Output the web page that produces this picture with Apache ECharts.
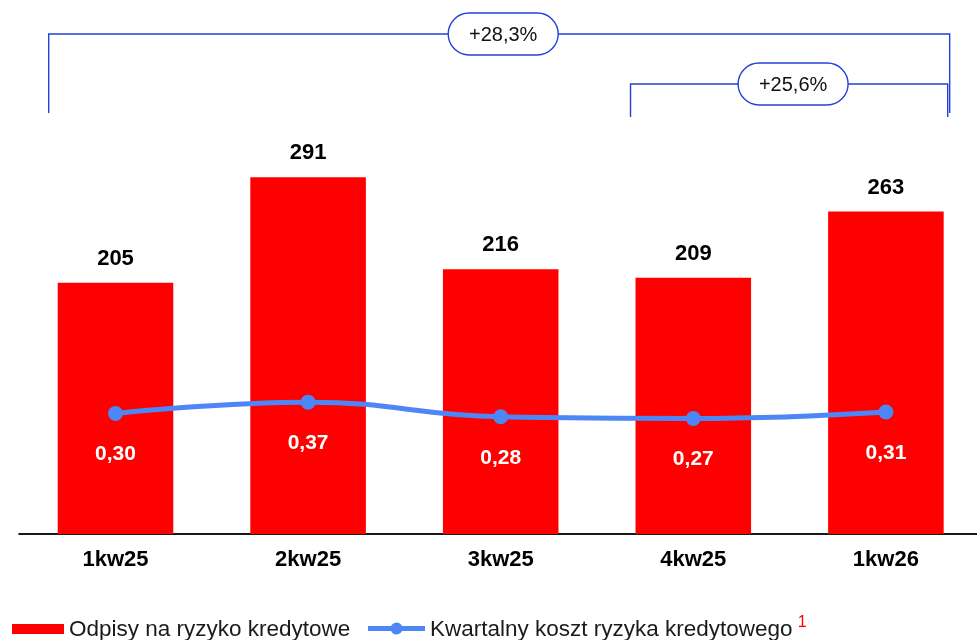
<!DOCTYPE html>
<html>
<head>
<meta charset="utf-8">
<script src="https://cdn.jsdelivr.net/npm/echarts@6/dist/echarts.min.js"></script>
<style>
  html, body { margin: 0; padding: 0; background: #fff; }
  #chart { width: 977px; height: 640px; }
</style>
</head>
<body>
<div id="chart"></div>
<script>
// Quarterly credit-risk provisions (bars) and quarterly cost of risk (line)
const quarters = ['1kw25', '2kw25', '3kw25', '4kw25', '1kw26'];
const provisions = [205, 291, 216, 209, 263];
const costOfRisk = [0.30, 0.37, 0.28, 0.27, 0.31];
const seriesNames = ['Odpisy na ryzyko kredytowe', 'Kwartalny koszt ryzyka kredytowego'];
// Change brackets: [fromIndex, toIndex, label]
const changes = [[0, 4, '+28,3%'], [3, 4, '+25,6%']];

const RED = '#ff0000';
const BLUE = '#4d86f5';
const BRACKET = '#2540d8';
const FONT = '"Liberation Sans", Arial, sans-serif';

const fmt = v => v.toFixed(2).replace('.', ',');

const chart = echarts.init(document.getElementById('chart'), null, { renderer: 'canvas' });

const legendText = {
  fontSize: 22.5,
  lineHeight: 30,
  color: '#1a1a1a',
  fontFamily: FONT,
  rich: {
    sup: { fontSize: 16, lineHeight: 12, color: RED, verticalAlign: 'top', padding: [0, 0, 0, 5], fontFamily: FONT }
  }
};

// Legend icons; the trailing zero-length segment nudges the visible shape above the row centre
const barIcon = 'path://M0,0 L52,0 L52,10 L0,10 Z M0,12 L0,12';
const lineIcon = 'path://M0,4 L23.05,4 A6,6 0 0 1 33.95,4 L57,4 L57,9 L33.95,9 A6,6 0 0 1 23.05,9 L0,9 Z M0,15.5 L0,15.5';

const option = {
  animation: false,
  textStyle: { fontFamily: FONT },
  grid: { left: 19.2, width: 963, top: 100, bottom: 106, outerBoundsMode: 'none', containLabel: false },
  xAxis: {
    type: 'category',
    data: quarters,
    axisTick: { show: false },
    axisLine: { lineStyle: { color: '#1a1a1a', width: 2 } },
    axisLabel: { color: '#000', fontWeight: 'bold', fontSize: 22, margin: 15, fontFamily: FONT }
  },
  yAxis: [
    { type: 'value', min: 0, max: 354, show: false, splitLine: { show: false } },
    { type: 'value', min: -0.439, max: 2.224, show: false, splitLine: { show: false } }
  ],
  legend: [
    {
      left: 7,
      top: 610,
      itemGap: 0,
      itemWidth: 52,
      itemHeight: 12,
      textStyle: legendText,
      data: [{ name: seriesNames[0], icon: barIcon, itemStyle: { color: RED } }]
    },
    {
      left: 363,
      top: 610,
      itemGap: 0,
      itemWidth: 57,
      itemHeight: 15.5,
      textStyle: legendText,
      formatter: name => name + '{sup|1}',
      data: [{ name: seriesNames[1], icon: lineIcon, itemStyle: { color: BLUE } }]
    }
  ],
  series: [
    {
      name: seriesNames[0],
      type: 'bar',
      data: provisions,
      barWidth: '60%',
      itemStyle: { color: RED },
      label: {
        show: true,
        position: 'top',
        distance: 13,
        color: '#000',
        fontWeight: 'bold',
        fontSize: 22,
        fontFamily: FONT
      }
    },
    {
      name: seriesNames[1],
      type: 'line',
      yAxisIndex: 1,
      data: costOfRisk,
      smooth: 0.45,
      symbol: 'circle',
      symbolSize: 15,
      lineStyle: { color: BLUE, width: 5 },
      itemStyle: { color: BLUE },
      label: {
        show: true,
        position: 'bottom',
        distance: 23,
        color: '#fff',
        fontWeight: 'bold',
        fontSize: 21,
        fontFamily: FONT,
        formatter: p => fmt(p.value)
      },
      z: 5
    }
  ]
};

chart.setOption(option);

// Change brackets above the bars, anchored to the category positions
function drawBrackets() {
  const step = chart.convertToPixel({ xAxisIndex: 0 }, quarters[1]) - chart.convertToPixel({ xAxisIndex: 0 }, quarters[0]);
  const barHalf = step * 0.3;
  const levels = [
    { y: 34, bottom: 113, padL: 9, padR: 6 },
    { y: 84, bottom: 117, padL: 5, padR: 4 }
  ];
  const pillW = 110, pillH = 42;
  const elements = [];
  changes.forEach((c, i) => {
    const lv = levels[i];
    const x0 = chart.convertToPixel({ xAxisIndex: 0 }, quarters[c[0]]) - barHalf - lv.padL;
    const x1 = chart.convertToPixel({ xAxisIndex: 0 }, quarters[c[1]]) + barHalf + lv.padR;
    const cx = (x0 + x1) / 2 + 4;
    elements.push({
      type: 'polyline',
      shape: { points: [[x0, lv.bottom], [x0, lv.y], [x1, lv.y], [x1, lv.bottom]] },
      style: { stroke: BRACKET, lineWidth: 1.4, fill: null }
    });
    elements.push({
      type: 'rect',
      shape: { x: cx - pillW / 2, y: lv.y - pillH / 2, width: pillW, height: pillH, r: pillH / 2 },
      style: { fill: '#fff', stroke: BRACKET, lineWidth: 1.4 },
      z: 10
    });
    elements.push({
      type: 'text',
      x: cx,
      y: lv.y + 1,
      style: {
        text: c[2],
        fill: '#111',
        font: '20px ' + FONT,
        align: 'center',
        verticalAlign: 'middle'
      },
      z: 11
    });
  });
  chart.setOption({ graphic: elements });
}
drawBrackets();
</script>
</body>
</html>
